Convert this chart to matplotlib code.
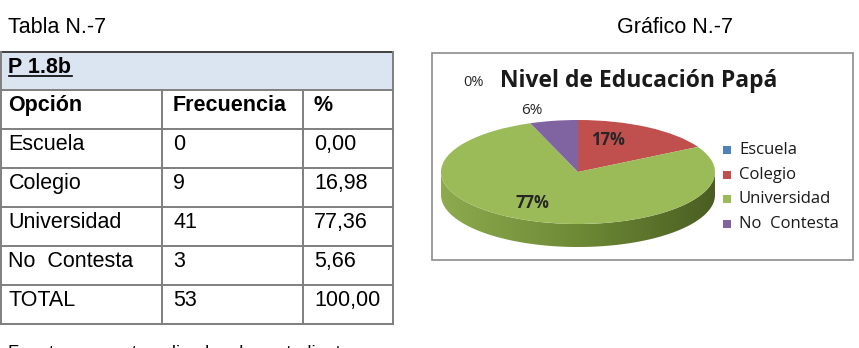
import numpy as np
import matplotlib
matplotlib.use("Agg")
import matplotlib.pyplot as plt
from matplotlib.patches import Rectangle, Polygon

# table data
table_title = "P 1.8b"
col_headers = ["Opción", "Frecuencia", "%"]
options = ["Escuela", "Colegio", "Universidad", "No  Contesta", "TOTAL"]
freq = ["0", "9", "41", "3", "53"]
pct = ["0,00", "16,98", "77,36", "5,66", "100,00"]

# chart data
categories = ["Escuela", "Colegio", "Universidad", "No  Contesta"]
counts = [0, 9, 41, 3]
colors = ["#4F81BD", "#C0504D", "#9BBB59", "#8064A2"]
chart_title = "Nivel de Educación Papá"

W, H = 859, 348
fig = plt.figure(figsize=(W / 100, H / 100), dpi=100)
ax = fig.add_axes([0, 0, 1, 1])
ax.set_xlim(0, W)
ax.set_ylim(H, 0)
ax.axis("off")


def ftext(x, y, s, **kw):
    # text on top of everything, placed in pixels from the top-left corner
    return fig.text(x / W, 1 - y / H, s, **kw)


body = "Liberation Sans"
fs = 15.5

# captions
ax.text(8, 33, "Tabla N.-7", fontsize=fs, family=body, va="baseline")
ax.text(617, 33, "Gráfico N.-7", fontsize=fs, family=body, va="baseline")

# table geometry
row_tops = [52, 90, 129, 168, 207, 246, 285, 324]
col_x = [0.5, 162, 303, 393]
pad = 8
grid_c = "#7f7f7f"

ax.add_patch(Rectangle((col_x[0], row_tops[0]), col_x[-1] - col_x[0],
                       row_tops[1] - row_tops[0], facecolor="#DBE5F1",
                       edgecolor="none"))
ax.text(col_x[0] + pad, row_tops[0] + 21, table_title, fontsize=fs,
        family=body, weight="bold", va="baseline")
ax.plot([col_x[0] + pad, col_x[0] + pad + 63], [row_tops[0] + 24] * 2,
        color="black", lw=1.2)

rows = [col_headers] + [[o, f, p] for o, f, p in zip(options, freq, pct)]
for i, row in enumerate(rows):
    top = row_tops[i + 1]
    for j, val in enumerate(row):
        ax.text(col_x[j] + pad + (3 if j else 0), top + 21, val, fontsize=fs,
                family=body, va="baseline",
                weight="bold" if i == 0 else "normal")

for k, y in enumerate(row_tops):
    ax.plot([col_x[0], col_x[-1]], [y, y], color="#404040" if k == 0 else grid_c,
            lw=1.4)
ax.plot([col_x[0], col_x[0]], [row_tops[0], row_tops[-1]], color=grid_c, lw=1.4)
ax.plot([col_x[-1], col_x[-1]], [row_tops[0], row_tops[-1]], color=grid_c, lw=1.4)
for x in col_x[1:-1]:
    ax.plot([x, x], [row_tops[1], row_tops[-1]], color=grid_c, lw=1.4)

ax.text(8, 345, "Fuente: encuesta aplicada a los estudiantes", fontsize=13,
        family=body, va="top")

# chart frame
ax.add_patch(Rectangle((432, 53), 421, 207, facecolor="white",
                       edgecolor="#8c8c8c", lw=1.2))
ftext(500, 81, chart_title, fontsize=16.5, family="Open Sans", weight="bold",
      ha="left", va="center", color="#1a1a1a")

# pie (squashed ellipse with depth)
cx0, cx1, ytop, ybot, depth = 441, 715, 120, 224, 23
ry = (ybot - ytop) / 2
D = depth / ry
pax = fig.add_axes([cx0 / W, (H - ybot - depth) / H, (cx1 - cx0) / W,
                    (ybot + depth - ytop) / H])
total = sum(counts)
wedges, _ = pax.pie(counts, colors=colors, startangle=90, counterclock=False,
                    radius=1, wedgeprops=dict(linewidth=0))
for w in wedges:
    w.set_zorder(3)

# side wall: front half is the largest slice
t = np.linspace(np.pi, 2 * np.pi, 200)
side = np.vstack([np.c_[np.cos(t), np.sin(t)],
                  np.c_[np.cos(t[::-1]), np.sin(t[::-1]) - D]])
clip = Polygon(side, closed=True, transform=pax.transData, facecolor="none",
               edgecolor="none")
pax.add_patch(clip)
grad = np.linspace(0, 1, 256).reshape(1, -1)
cmap = matplotlib.colors.LinearSegmentedColormap.from_list(
    "side", ["#8DAA4E", "#6E8A36", "#4A5E22"])
im = pax.imshow(grad, extent=[-1, 1, -1 - D, 0], cmap=cmap, aspect="auto",
                zorder=1)
im.set_clip_path(clip)
pax.set_aspect("auto")
pax.set_xlim(-1, 1)
pax.set_ylim(-1 - D, 1)
pax.axis("off")

# percentage labels
pcts = [f"{round(100 * c / total)}%" for c in counts]
label_pos = [(474, 83, 10.5, "normal"), (608, 140, 12, "bold"),
             (532, 203, 12, "bold"), (532, 111, 11, "normal")]
for p, (x, y, s, wt) in zip(pcts, label_pos):
    ftext(x, y, p, fontsize=s, family="Open Sans", weight=wt, ha="center",
          va="center", color="#262626")

# legend
for i, (c, lab) in enumerate(zip(categories, colors)):
    y = 150 + i * 24.6
    ax.add_patch(Rectangle((723, y - 4), 8, 8, facecolor=lab, edgecolor="none"))
    ax.text(739, y, c, fontsize=12, family="Open Sans", va="center",
            color="#1a1a1a")

fig.savefig("out.png", dpi=100)
